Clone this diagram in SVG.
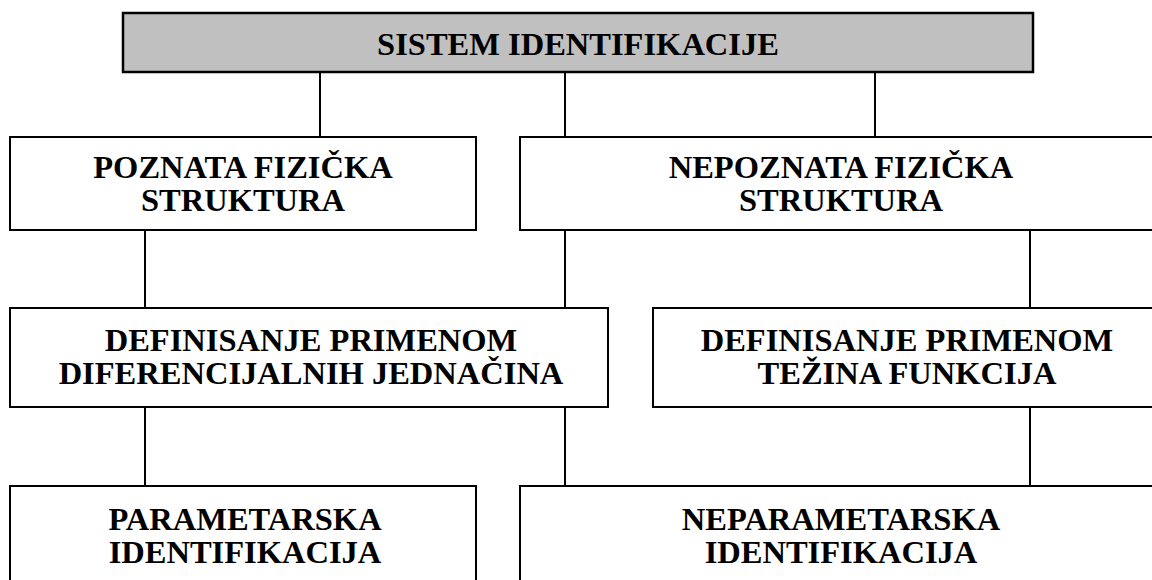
<svg xmlns="http://www.w3.org/2000/svg" width="1152" height="580" viewBox="0 0 1152 580">
  <style>
    .box { fill: #ffffff; stroke: #000000; stroke-width: 2; }
    .root { fill: #c0c0c0; stroke: #000000; stroke-width: 2.5; }
    .link { stroke: #000000; stroke-width: 2; fill: none; }
    .lbl { font-family: "Liberation Serif", "Times New Roman", serif; font-weight: bold; font-size: 32.5px; fill: #000000; text-anchor: middle; }
  </style>
  <rect width="1152" height="580" fill="#ffffff"/>

  <!-- connectors -->
  <g id="connectors">
    <line class="link" x1="320" y1="72" x2="320" y2="137"/>
    <line class="link" x1="565" y1="72" x2="565" y2="137"/>
    <line class="link" x1="875" y1="72" x2="875" y2="137"/>
    <line class="link" x1="145" y1="230" x2="145" y2="308"/>
    <line class="link" x1="565" y1="230" x2="565" y2="308"/>
    <line class="link" x1="1030" y1="230" x2="1030" y2="308"/>
    <line class="link" x1="145" y1="407" x2="145" y2="486"/>
    <line class="link" x1="565" y1="407" x2="565" y2="486"/>
    <line class="link" x1="1030" y1="407" x2="1030" y2="486"/>
  </g>

  <g id="sistem">
    <rect class="root" x="123" y="13" width="910" height="59"/>
    <text class="lbl" x="578" y="55">SISTEM IDENTIFIKACIJE</text>
  </g>

  <g id="poznata">
    <rect class="box" x="10" y="137" width="466" height="93"/>
    <text class="lbl" x="243" y="178">POZNATA FIZIČKA</text>
    <text class="lbl" x="243" y="211">STRUKTURA</text>
  </g>

  <g id="nepoznata">
    <rect class="box" x="520" y="137" width="642" height="93"/>
    <text class="lbl" x="841" y="178">NEPOZNATA FIZIČKA</text>
    <text class="lbl" x="841" y="211">STRUKTURA</text>
  </g>

  <g id="diferencijalne">
    <rect class="box" x="10" y="308" width="598" height="99"/>
    <text class="lbl" x="311" y="351">DEFINISANJE PRIMENOM</text>
    <text class="lbl" x="311" y="384">DIFERENCIJALNIH JEDNAČINA</text>
  </g>

  <g id="tezinske">
    <rect class="box" x="653" y="308" width="509" height="99"/>
    <text class="lbl" x="907" y="351">DEFINISANJE PRIMENOM</text>
    <text class="lbl" x="907" y="384">TEŽINA FUNKCIJA</text>
  </g>

  <g id="parametarska">
    <rect class="box" x="10" y="486" width="466" height="110"/>
    <text class="lbl" x="245" y="530">PARAMETARSKA</text>
    <text class="lbl" x="245" y="563">IDENTIFIKACIJA</text>
  </g>

  <g id="neparametarska">
    <rect class="box" x="520" y="486" width="642" height="110"/>
    <text class="lbl" x="841" y="530">NEPARAMETARSKA</text>
    <text class="lbl" x="841" y="563">IDENTIFIKACIJA</text>
  </g>
</svg>
